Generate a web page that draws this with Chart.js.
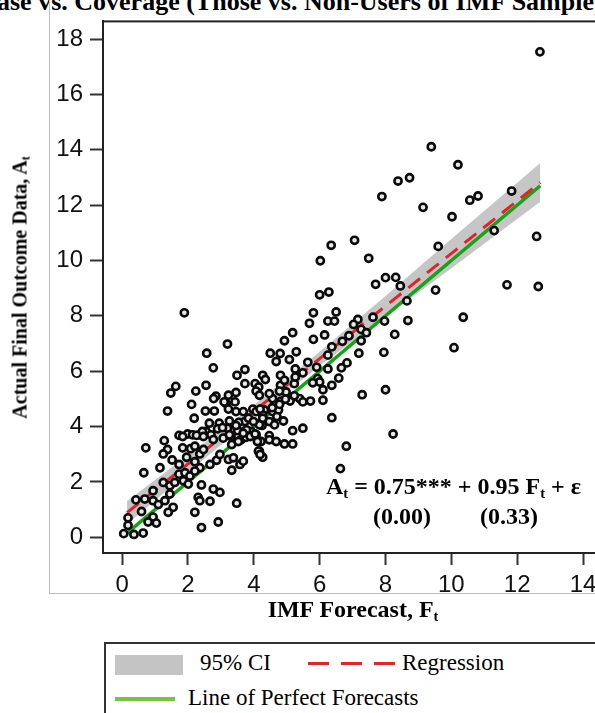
<!DOCTYPE html>
<html>
<head>
<meta charset="utf-8">
<script src="https://cdn.jsdelivr.net/npm/chart.js@4.4.1/dist/chart.umd.min.js"></script>
<style>
  html, body { margin: 0; padding: 0; background: #fff; width: 595px; height: 713px; overflow: hidden; position: relative; }
  #wrap { position: absolute; left: 0; top: 0; width: 640px; height: 630px; }
  .serif { font-family: "Liberation Serif", "Times New Roman", serif; color: #000; position: absolute; white-space: nowrap; }
  .b { font-weight: bold; }
  sub { font-size: 0.6em; vertical-align: -0.25em; line-height: 0; }
  .frameV { position: absolute; left: 49px; top: 0; width: 1px; height: 594px; background: #bdbdbd; }
  .frameH { position: absolute; left: 49px; top: 593px; width: 560px; height: 1px; background: #bdbdbd; }
  #legend { position: absolute; left: 104px; top: 642px; width: 540px; height: 100px; border: 2px solid #333; box-sizing: border-box; }
  .dash { position: absolute; top: 18px; width: 87px; height: 3px;
          background: repeating-linear-gradient(to right, #e0262b 0 21px, transparent 21px 33px); }
</style>
</head>
<body>
<div class="serif b" style="left:-3px; top:-13px; font-size:26px;">ase vs. Coverage (Those vs. Non-Users of IMF Sample) &nbsp;p</div>
<div class="frameV"></div>
<div class="frameH"></div>
<div id="wrap"><canvas id="scatterChart" width="640" height="630"></canvas></div>

<div class="serif b" style="left:-180px; top:276px; width:400px; text-align:center; font-size:20px; transform:rotate(-90deg);">Actual Final Outcome Data, A<sub>t</sub></div>
<div class="serif b" style="left:203px; top:596px; width:300px; text-align:center; font-size:24px;">IMF Forecast, F<sub>t</sub></div>

<div class="serif b" style="left:326px; top:473px; font-size:24px;">A<sub>t</sub> = 0.75*** + 0.95 F<sub>t</sub> + ε</div>
<div class="serif b" style="left:373px; top:503px; font-size:24px;">(0.00)</div>
<div class="serif b" style="left:480px; top:503px; font-size:24px;">(0.33)</div>

<div id="legend">
  <div style="position:absolute; left:9px; top:11px; width:68px; height:20px; background:#c4c4c4;"></div>
  <div class="serif" style="left:94px; top:6px; font-size:23px;">95% CI</div>
  <div class="dash" style="left:202px;"></div>
  <div class="serif" style="left:296px; top:6px; font-size:23px;">Regression</div>
  <div style="position:absolute; left:9px; top:53px; width:60px; height:4px; background:#7cc242;"></div>
  <div class="serif" style="left:82px; top:41px; font-size:23px;">Line of Perfect Forecasts</div>
</div>

<script>
// ----------------------------------------------------
// Data
// ----------------------------------------------------
const forecastX = [
  12.69, 9.39, 10.20, 8.38, 8.73, 7.89, 9.14, 10.56, 10.81, 10.02, 11.83, 6.35, 7.06, 6.02, 7.49, 9.60, 11.30, 12.59,
  8.00, 8.31, 7.70, 8.45, 6.00, 6.28, 9.52, 8.65, 11.69, 12.64, 1.89, 5.81, 6.50, 5.69, 6.25, 6.45, 7.16, 7.62, 7.97,
  8.68, 10.36, 7.03, 7.26, 7.42, 8.28, 6.15, 6.89, 5.81, 6.69, 7.26, 6.37, 6.25, 7.19, 7.95, 10.08, 5.64, 6.83, 6.66,
  5.91, 6.25, 5.49, 5.94, 6.58, 6.37, 6.10, 8.00, 5.18, 4.93, 3.20, 2.57, 4.50, 4.80, 5.29, 5.08, 4.68, 2.77, 3.73,
  3.49, 4.27, 4.81, 5.26, 1.63, 1.48, 2.55, 2.24, 3.73, 4.04, 4.15, 4.81, 5.23, 2.85, 2.78, 3.23, 3.46, 4.07, 4.57,
  4.98, 5.39, 2.11, 2.53, 2.80, 3.16, 3.43, 3.46, 3.97, 4.07, 4.32, 4.57, 4.75, 5.10, 5.72, 6.37, 1.38, 2.19, 3.73,
  2.95, 2.65, 1.99, 1.73, 2.34, 2.55, 2.90, 3.20, 3.51, 3.71, 3.92, 4.25, 4.47, 4.68, 4.93, 5.18, 6.81, 1.28, 0.72,
  1.38, 1.84, 7.29, 8.23, 6.63, 6.10, 6.00, 4.83, 4.27, 4.17, 4.22, 4.17, 4.27, 5.79, 4.35, 4.93, 5.26, 3.10, 4.17,
  4.47, 4.78, 4.96, 5.23, 3.23, 3.68, 4.19, 4.56, 4.78, 5.49, 3.26, 3.54, 3.84, 3.99, 4.27, 4.47, 4.70, 3.05, 3.46,
  3.78, 4.07, 4.63, 4.90, 5.18, 5.49, 1.84, 2.14, 2.44, 2.70, 3.31, 3.61, 3.76, 4.47, 1.25, 2.26, 2.47, 2.08, 2.21,
  2.36, 2.47, 2.77, 3.07, 3.26, 3.33, 3.53, 3.68, 3.89, 4.04, 4.11, 4.14, 4.19, 1.52, 1.15, 0.66, 1.73, 1.96, 2.21,
  2.36, 2.67, 2.87, 2.97, 3.23, 3.38, 3.58, 3.68, 3.33, 1.73, 1.91, 2.06, 2.21, 1.25, 0.94, 1.45, 1.60, 1.86, 2.01,
  2.41, 2.77, 2.97, 0.42, 0.69, 0.94, 1.10, 1.30, 1.45, 2.31, 2.36, 2.67, 3.48, 1.55, 1.40, 0.59, 0.94, 0.79, 1.04,
  2.21, 0.18, 0.18, 2.92, 2.41, 0.05, 0.36, 0.64
];
const actualY = [
  17.54, 14.11, 13.46, 12.87, 12.99, 12.31, 11.92, 12.18, 12.33, 11.58, 12.51, 10.55, 10.73, 9.99, 10.08, 10.51, 11.08, 10.87,
  9.38, 9.39, 9.14, 9.08, 8.76, 8.86, 8.93, 8.54, 9.12, 9.06, 8.11, 8.11, 8.14, 7.73, 7.81, 7.81, 7.87, 7.95, 7.81,
  7.83, 7.95, 7.69, 7.51, 7.39, 7.33, 7.31, 7.28, 7.15, 7.08, 7.10, 6.88, 6.58, 6.65, 6.68, 6.85, 6.32, 6.30, 6.12,
  6.14, 6.08, 5.94, 5.73, 5.75, 5.49, 5.33, 5.33, 7.39, 7.10, 6.98, 6.65, 6.65, 6.64, 6.70, 6.42, 6.35, 6.12, 6.06,
  5.85, 5.85, 5.85, 6.08, 5.45, 5.21, 5.49, 5.28, 5.55, 5.55, 5.43, 5.49, 5.55, 5.10, 5.01, 5.13, 5.23, 5.28, 5.01,
  5.25, 5.01, 4.80, 4.56, 4.56, 4.83, 4.89, 4.54, 4.63, 4.54, 4.60, 4.54, 4.60, 4.92, 4.92, 4.32, 4.56, 4.30, 4.18,
  4.12, 4.12, 3.73, 3.68, 3.70, 3.82, 3.92, 3.94, 3.85, 3.82, 3.82, 4.04, 3.67, 3.46, 3.37, 3.37, 3.29, 3.49, 3.23,
  3.17, 3.23, 5.15, 3.73, 2.48, 4.95, 5.61, 4.92, 4.42, 4.06, 3.46, 3.11, 2.89, 5.58, 5.70, 5.67, 5.79, 4.89, 5.13,
  5.19, 5.28, 4.99, 5.11, 4.63, 4.54, 4.63, 4.68, 4.80, 4.89, 4.20, 4.15, 4.30, 4.18, 4.30, 4.18, 4.36, 3.96, 4.04,
  3.88, 3.70, 4.06, 4.20, 3.85, 3.94, 3.64, 3.70, 3.82, 3.70, 3.64, 3.52, 3.61, 3.52, 3.01, 3.68, 3.64, 3.20, 3.29,
  3.01, 3.17, 3.53, 3.58, 3.70, 3.35, 3.46, 3.76, 3.64, 3.73, 3.46, 3.11, 2.99, 2.79, 2.51, 2.33, 2.63, 2.89, 2.73,
  2.51, 2.63, 2.78, 2.99, 2.81, 2.87, 2.63, 2.75, 2.42, 2.28, 2.33, 2.21, 2.39, 1.98, 1.68, 1.86, 1.98, 2.04, 1.92,
  1.89, 1.74, 1.62, 1.35, 1.38, 1.32, 1.18, 1.32, 1.56, 1.44, 1.32, 1.30, 1.23, 1.08, 0.90, 0.93, 0.73, 0.55, 0.51,
  0.90, 0.70, 0.43, 0.55, 0.35, 0.13, 0.10, 0.15
];

// Regression line and its 95% band
const regX = [0.15, 12.7];
const regY = [0.89, 12.82];
const ciX = [0.15, 2, 4, 6, 8, 10, 12.7];
const ciUpper = [1.31, 2.96, 4.77, 6.70, 8.72, 10.78, 13.52];
const ciLower = [0.47, 2.34, 4.33, 6.20, 7.98, 9.72, 12.12];

// Perfect forecast line (A = F)
const perfectX = [0.15, 12.7];
const perfectY = [0.15, 12.7];

const xTicks = [0, 2, 4, 6, 8, 10, 12, 14];
const yTicks = [0, 2, 4, 6, 8, 10, 12, 14, 16, 18];

const pts = (xs, ys) => xs.map((x, i) => ({ x: x, y: ys[i] }));

// Frame on the top and right side of the plot area
const frame = {
  id: 'frame',
  afterDraw(chart) {
    const { ctx, chartArea: a } = chart;
    ctx.save();
    ctx.strokeStyle = '#222';
    ctx.lineWidth = 2;
    ctx.strokeRect(a.left, a.top, a.right - a.left, a.bottom - a.top);
    ctx.restore();
  }
};

const tickFont = { family: '"Liberation Sans", Arial, sans-serif', size: 24 };

new Chart(document.getElementById('scatterChart').getContext('2d'), {
  type: 'scatter',
  data: {
    datasets: [
      {
        label: 'Data',
        data: pts(forecastX, actualY),
        pointRadius: 3.6,
        pointBorderWidth: 2.6,
        borderColor: '#0a0a0a',
        backgroundColor: '#e8e8e8',
        order: 0
      },
      {
        type: 'line',
        label: 'Regression',
        data: pts(regX, regY),
        borderColor: '#e3222a',
        borderWidth: 3,
        borderDash: [15, 9],
        pointRadius: 0,
        fill: false,
        order: 1
      },
      {
        type: 'line',
        label: 'Line of Perfect Forecasts',
        data: pts(perfectX, perfectY),
        borderColor: '#16a316',
        borderWidth: 3.5,
        pointRadius: 0,
        fill: false,
        order: 2
      },
      {
        type: 'line',
        label: '95% CI',
        data: pts(ciX, ciUpper),
        borderWidth: 0,
        borderColor: 'rgba(0,0,0,0)',
        backgroundColor: '#c6c6c6',
        pointRadius: 0,
        fill: '+1',
        order: 3
      },
      {
        type: 'line',
        label: 'ci low',
        data: pts(ciX, ciLower),
        borderWidth: 0,
        borderColor: 'rgba(0,0,0,0)',
        pointRadius: 0,
        fill: false,
        order: 4
      }
    ]
  },
  options: {
    responsive: false,
    animation: false,
    devicePixelRatio: 1,
    layout: { padding: { left: 0, top: 16, right: 24, bottom: 0 } },
    plugins: { legend: { display: false }, tooltip: { enabled: false } },
    scales: {
      x: {
        type: 'linear',
        min: -0.58,
        max: 15,
        afterBuildTicks: s => { s.ticks = xTicks.map(v => ({ value: v })); },
        afterFit: s => { s.height = 77; },
        grid: { drawOnChartArea: false, drawTicks: true, tickLength: 12, tickWidth: 2, tickColor: '#333' },
        border: { color: '#222', width: 2 },
        ticks: { padding: 6, color: '#111', font: tickFont, maxRotation: 0, autoSkip: false }
      },
      y: {
        type: 'linear',
        min: -0.57,
        max: 18.64,
        afterBuildTicks: s => { s.ticks = yTicks.map(v => ({ value: v })); },
        afterFit: s => { s.width = 103; },
        grid: { drawOnChartArea: false, drawTicks: true, tickLength: 13, tickWidth: 2, tickColor: '#333' },
        border: { color: '#222', width: 2 },
        ticks: { padding: 7, color: '#111', font: tickFont, autoSkip: false }
      }
    }
  },
  plugins: [frame]
});
</script>
</body>
</html>
